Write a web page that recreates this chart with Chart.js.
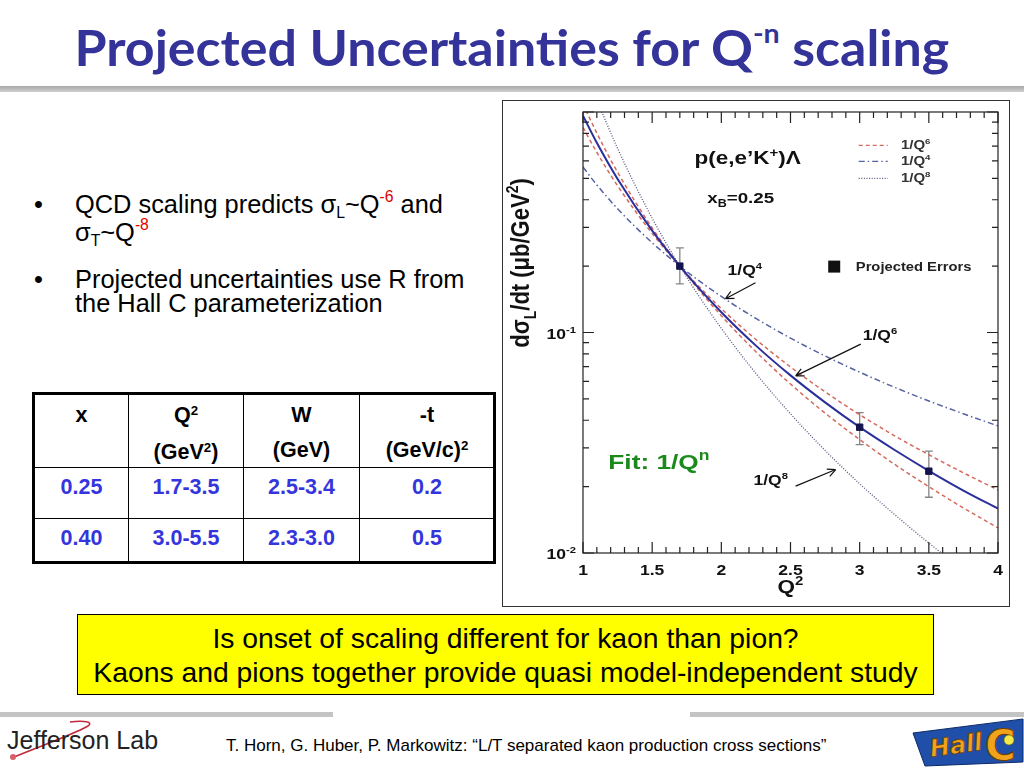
<!DOCTYPE html>
<html>
<head>
<meta charset="utf-8">
<script src="https://cdn.jsdelivr.net/npm/chart.js@4.4.0/dist/chart.umd.min.js"></script>
<style>
    body { margin: 0; background: #fff; }
    #slide { position: relative; width: 1024px; height: 768px; overflow: hidden; background: #fff;
             font-family: "Liberation Sans", Arial, sans-serif; color: #000; }
    #title { position: absolute; left: 0; top: 17px; width: 1024px; text-align: center; white-space: nowrap;
             font-family: Lato, "Open Sans", sans-serif; font-weight: bold; font-size: 49px; line-height: 60px;
             color: #333399; }
    #title .inner { display: inline-block; transform-origin: center; }
    #title .tsup { font-size: 0.55em; position: relative; top: -0.85em; }
    #rule { position: absolute; left: 0; top: 86px; width: 1024px; height: 6px;
            background: linear-gradient(#a9a9a9, #cfcfcf); }
    .bullet { position: absolute; left: 0; font-size: 25.4px; line-height: 24px; }
    .bullet .dot { position: absolute; left: 34px; top: 0; }
    .bullet .btext { position: absolute; left: 75px; top: 0; white-space: nowrap; }
    .sup, .sub { font-size: 0.62em; position: relative; }
    .sup { top: -0.7em; }
    .sub { top: 0.3em; }
    .red { color: #e00000; }
    #kin { position: absolute; left: 32px; top: 392px; width: 464px; height: 172px; box-sizing: border-box;
           border: 3px solid #000; font-weight: bold; font-size: 21.5px; }
    #kin .vl { position: absolute; top: 0; bottom: 0; width: 1px; background: #000; }
    #kin .hl { position: absolute; left: 0; right: 0; height: 1px; background: #000; }
    #kin .cell { position: absolute; text-align: center; white-space: nowrap; }
    #kin .head { line-height: 35px; top: 3px; }
    #kin .r1 { line-height: 24px; top: 80px; color: #3535dd; }
    #kin .r2 { line-height: 24px; top: 131px; color: #3535dd; }
    #kin .hsup { font-size: 0.62em; position: relative; top: -0.55em; }
    #chartBox { position: absolute; left: 502px; top: 100px; width: 508px; height: 507px;
                border: 1px solid #333; box-sizing: border-box; background: #fff; }
    #chart { display: block; }
    #yellow { position: absolute; left: 77px; top: 614px; width: 857px; height: 81px; box-sizing: border-box;
              border: 1.5px solid #000; background: #ffff00; text-align: center; font-size: 28.3px;
              line-height: 34px; padding-top: 6px; white-space: nowrap; }
    #footL, #footR { position: absolute; top: 712px; height: 5px; background: #c4c4c4; }
    #footL { left: 0; width: 333px; }
    #footR { left: 690px; width: 334px; }
    #jlab { position: absolute; left: 7px; top: 726px; font-size: 25px; color: #222; white-space: nowrap; }
    #swoosh { position: absolute; left: 0; top: 716px; }
    #cite { position: absolute; left: 226px; top: 736px; font-size: 17px; white-space: nowrap; transform-origin: left top; }
    #hallc { position: absolute; left: 905px; top: 714px; }
</style>
</head>
<body>
<div id="slide">
    <div id="title"><span class="inner">Projected Uncertainties for Q<span class="tsup">-n</span> scaling</span></div>
    <div id="rule"></div>

    <div class="bullet" style="top:192px">
        <span class="dot">•</span>
        <div class="btext">QCD scaling predicts σ<span class="sub">L</span>~Q<span class="sup red">-6</span> and<br>σ<span class="sub">T</span>~Q<span class="sup red">-8</span></div>
    </div>
    <div class="bullet" style="top:267px">
        <span class="dot">•</span>
        <div class="btext">Projected uncertainties use R from<br>the Hall C parameterization</div>
    </div>

    <div id="kin">
        <div class="vl" style="left:93px"></div>
        <div class="vl" style="left:208px"></div>
        <div class="vl" style="left:324px"></div>
        <div class="hl" style="top:72px"></div>
        <div class="hl" style="top:123px"></div>

        <div class="cell head" style="left:0;width:93px">x</div>
        <div class="cell head" style="left:94px;width:114px">Q<span class="hsup">2</span><br>(GeV<span class="hsup">2</span>)</div>
        <div class="cell head" style="left:209px;width:115px">W<br>(GeV)</div>
        <div class="cell head" style="left:325px;width:134px">-t<br>(GeV/c)<span class="hsup">2</span></div>

        <div class="cell r1" style="left:0;width:93px">0.25</div>
        <div class="cell r1" style="left:94px;width:114px">1.7-3.5</div>
        <div class="cell r1" style="left:209px;width:115px">2.5-3.4</div>
        <div class="cell r1" style="left:325px;width:134px">0.2</div>

        <div class="cell r2" style="left:0;width:93px">0.40</div>
        <div class="cell r2" style="left:94px;width:114px">3.0-5.5</div>
        <div class="cell r2" style="left:209px;width:115px">2.3-3.0</div>
        <div class="cell r2" style="left:325px;width:134px">0.5</div>
    </div>

    <div id="chartBox"><canvas id="chart" width="506" height="505"></canvas></div>

    <div id="yellow">Is onset of scaling different for kaon than pion?<br>Kaons and pions together provide quasi model-independent study</div>

    <div id="footL"></div><div id="footR"></div>
    <svg id="swoosh" width="120" height="50">
        <path d="M14 41 C 40 30, 70 20, 88 10 C 94 6, 84 4, 70 6" fill="none" stroke="#c3283c" stroke-width="1.6"/>
        <circle cx="13" cy="41" r="3" fill="#d9606a"/>
    </svg>
    <div id="jlab">Jefferson Lab</div>
    <div id="cite">T. Horn, G. Huber, P. Markowitz: “L/T separated kaon production cross sections”</div>
    <svg id="hallc" width="119" height="54">
        <polygon points="8,19 118,5 118,48 20,52" fill="#1f4fa8" stroke="#0d2a66" stroke-width="1"/>
        <text x="26" y="43" font-family="DejaVu Sans" font-weight="bold" font-style="italic" font-size="24"
              fill="#f2a31c" stroke="#6b3d00" stroke-width="0.8" transform="rotate(-8 26 43)">Hall</text>
        <text x="80" y="46" font-family="DejaVu Sans" font-weight="bold" font-size="42"
              fill="#f2a31c" stroke="#6b3d00" stroke-width="1">C</text>
        <circle cx="104" cy="26" r="5" fill="#f5e94a" stroke="#6b6b00" stroke-width="0.6"/>
    </svg>
</div>

<script>
const q2Grid = [1.0, 1.1, 1.25, 1.5, 1.75, 2.0, 2.25, 2.5, 2.75, 3.0, 3.25, 3.5, 3.75, 4.0];
const fitCurve = [0.962, 0.725, 0.497, 0.290, 0.1836, 0.1236, 0.0872, 0.0639, 0.0482, 0.0372, 0.0294, 0.0236, 0.0192, 0.0159];
const bandUpper = [0.851, 0.656, 0.463, 0.2815, 0.1848, 0.1283, 0.0930, 0.0698, 0.0538, 0.0424, 0.0341, 0.0279, 0.0231, 0.0193];
const bandLower = [1.087, 0.802, 0.533, 0.298, 0.1823, 0.1191, 0.0818, 0.0584, 0.0431, 0.0327, 0.0253, 0.0200, 0.0160, 0.0130];
const curveQ4 = [0.563, 0.467, 0.364, 0.2553, 0.189, 0.1457, 0.1158, 0.0943, 0.0783, 0.0661, 0.0565, 0.0489, 0.0428, 0.0377];
const curveQ8 = [1.67, 1.141, 0.684, 0.330, 0.178, 0.1044, 0.0652, 0.0428, 0.0292, 0.0206, 0.0150, 0.0111, 0.0084, 0.0065];

// projected errors
const errQ2 = [1.7, 3.0, 3.5];
const errVal = [0.200, 0.0372, 0.0235];
const errLow = [0.166, 0.0310, 0.0179];
const errHigh = [0.242, 0.0433, 0.0290];

// axis ticks
const xTickValues = [1, 1.5, 2, 2.5, 3, 3.5, 4];
const xTickLabels = ['1', '1.5', '2', '2.5', '3', '3.5', '4'];
const yTickValues = [0.01, 0.1];
const yTickExps = ['-2', '-1'];

const colFit = '#2b2f9b';
const colBand = '#d46a5c';
const colQ4 = '#5563a0';
const colQ8 = '#55557f';

document.addEventListener('DOMContentLoaded', () => {
    // title and footer widths
    const tInner = document.querySelector('#title .inner');
    tInner.style.transform = `scaleX(${875 / tInner.offsetWidth})`;
    const cite = document.getElementById('cite');
    cite.style.transform = `scaleX(${600 / cite.offsetWidth})`;

    const pts = arr => q2Grid.map((q, i) => ({ x: q, y: arr[i] }));

    function fontOf(mode, size) {
        const s = mode ? Math.round(size * 0.65) : size;
        return `bold ${s}px "Liberation Sans", Arial, sans-serif`;
    }

    // text with sub/superscripts, stretched sideways like the original picture
    function drawRich(ctx, parts, x, y, size, align, color, sx = 1.25, sy = 1, rot = 0) {
        ctx.save();
        ctx.translate(x, y);
        if (rot) ctx.rotate(rot);
        ctx.scale(sx, sy);
        ctx.fillStyle = color;
        ctx.textAlign = 'left';
        ctx.textBaseline = 'alphabetic';
        let w = 0;
        parts.forEach(([t, m]) => { ctx.font = fontOf(m, size); w += ctx.measureText(t).width; });
        let cx = align === 'center' ? -w / 2 : align === 'right' ? -w : 0;
        parts.forEach(([t, m]) => {
            ctx.font = fontOf(m, size);
            const dy = m === 'sup' ? -size * 0.42 : m === 'sub' ? size * 0.25 : 0;
            ctx.fillText(t, cx, dy);
            cx += ctx.measureText(t).width;
        });
        ctx.restore();
    }

    function arrow(ctx, x1, y1, x2, y2) {
        const a = Math.atan2(y2 - y1, x2 - x1);
        ctx.beginPath();
        ctx.moveTo(x1, y1);
        ctx.lineTo(x2, y2);
        ctx.moveTo(x2, y2);
        ctx.lineTo(x2 - 9 * Math.cos(a - 0.45), y2 - 9 * Math.sin(a - 0.45));
        ctx.moveTo(x2, y2);
        ctx.lineTo(x2 - 9 * Math.cos(a + 0.45), y2 - 9 * Math.sin(a + 0.45));
        ctx.stroke();
    }

    const legendRows = [
        { dash: [4, 3], color: colBand, exp: '6', y: 0.706 },
        { dash: [6, 3, 1.5, 3], color: colQ4, exp: '4', y: 0.597 },
        { dash: [1, 1.6], color: colQ8, exp: '8', y: 0.4995 }
    ];

    const notes = [
        { parts: [['p(e,e\u2019K', ''], ['+', 'sup'], [')\u039B', '']], x: 2.19, y: 0.578, size: 18, align: 'center', color: '#111' },
        { parts: [['x', ''], ['B', 'sub'], ['=0.25', '']], x: 2.14, y: 0.385, size: 15, align: 'center', color: '#111' },
        { parts: [['1/Q', ''], ['4', 'sup']], x: 2.045, y: 0.183, size: 14, align: 'left', color: '#111' },
        { parts: [['1/Q', ''], ['6', 'sup']], x: 3.022, y: 0.0926, size: 14, align: 'left', color: '#111' },
        { parts: [['1/Q', ''], ['8', 'sup']], x: 2.232, y: 0.0203, size: 14, align: 'left', color: '#111' },
        { parts: [['Fit: 1/Q', ''], ['n', 'sup']], x: 1.183, y: 0.0240, size: 21, align: 'left', color: '#1a8a1a' }
    ];

    const arrows = [
        [2.247, 0.168, 2.03, 0.1423],
        [3.008, 0.0886, 2.537, 0.0636],
        [2.537, 0.0201, 2.827, 0.0239]
    ];

    const slidePlot = {
        id: 'slidePlot',
        beforeDatasetsDraw(chart) {
            const { ctx, scales: { x, y } } = chart;
            ctx.save();
            ctx.strokeStyle = '#858585';
            ctx.lineWidth = 1.3;
            errQ2.forEach((q, i) => {
                const px = x.getPixelForValue(q);
                const top = y.getPixelForValue(errHigh[i]);
                const bot = y.getPixelForValue(errLow[i]);
                ctx.beginPath();
                ctx.moveTo(px, top); ctx.lineTo(px, bot);
                ctx.moveTo(px - 4, top); ctx.lineTo(px + 4, top);
                ctx.moveTo(px - 4, bot); ctx.lineTo(px + 4, bot);
                ctx.stroke();
            });
            ctx.restore();
        },
        afterDraw(chart) {
            const { ctx, chartArea: a, scales: { x, y } } = chart;
            ctx.save();

            // frame
            ctx.strokeStyle = '#222';
            ctx.lineWidth = 1.2;
            ctx.strokeRect(a.left, a.top, a.right - a.left, a.bottom - a.top);

            // inward ticks on all four sides
            ctx.beginPath();
            for (let k = 10; k <= 40; k++) {
                const px = x.getPixelForValue(k / 10);
                const len = k % 5 === 0 ? 11 : 6;
                ctx.moveTo(px, a.bottom); ctx.lineTo(px, a.bottom - len);
                ctx.moveTo(px, a.top); ctx.lineTo(px, a.top + len);
            }
            [0.01, 0.1].forEach(d => {
                for (let m = 1; m <= 10; m++) {
                    const py = y.getPixelForValue(d * m);
                    const len = (m === 1 || m === 10) ? 11 : 6;
                    ctx.moveTo(a.left, py); ctx.lineTo(a.left + len, py);
                    ctx.moveTo(a.right, py); ctx.lineTo(a.right - len, py);
                }
            });
            ctx.stroke();

            // tick labels
            xTickValues.forEach((v, i) => {
                drawRich(ctx, [[xTickLabels[i], '']], x.getPixelForValue(v), a.bottom + 22, 14, 'center', '#111');
            });
            yTickValues.forEach((v, i) => {
                drawRich(ctx, [['10', ''], [yTickExps[i], 'sup']], a.left - 7, y.getPixelForValue(v) + 6, 14, 'right', '#111');
            });

            // axis titles
            drawRich(ctx, [['Q', ''], ['2', 'sup']], (a.left + a.right) / 2, a.bottom + 40, 18, 'center', '#111');
            drawRich(ctx, [['d\u03C3', ''], ['L', 'sub'], ['/dt (\u03BCb/GeV', ''], ['2', 'sup'], [')', '']],
                a.left - 54, a.top + 151, 22, 'center', '#111', 1, 1.2, -Math.PI / 2);

            // legend inside the frame
            legendRows.forEach(r => {
                const py = y.getPixelForValue(r.y);
                ctx.save();
                ctx.strokeStyle = r.color;
                ctx.lineWidth = 1.3;
                ctx.setLineDash(r.dash);
                ctx.beginPath();
                ctx.moveTo(x.getPixelForValue(2.993), py);
                ctx.lineTo(x.getPixelForValue(3.203), py);
                ctx.stroke();
                ctx.restore();
                drawRich(ctx, [['1/Q', ''], [r.exp, 'sup']], x.getPixelForValue(3.298), py + 4, 12.5, 'left', '#333', 1.2);
            });
            const sqx = x.getPixelForValue(2.816);
            const sqy = y.getPixelForValue(0.199);
            ctx.fillStyle = '#111';
            ctx.fillRect(sqx - 6, sqy - 6, 12, 12);
            drawRich(ctx, [['Projected Errors', '']], x.getPixelForValue(2.972), y.getPixelForValue(0.1893), 12.5, 'left', '#222', 1.18);

            // annotations
            notes.forEach(n => {
                drawRich(ctx, n.parts, x.getPixelForValue(n.x), y.getPixelForValue(n.y), n.size, n.align, n.color);
            });
            ctx.strokeStyle = '#111';
            ctx.lineWidth = 1.2;
            arrows.forEach(([q1, v1, q2, v2]) => {
                arrow(ctx, x.getPixelForValue(q1), y.getPixelForValue(v1), x.getPixelForValue(q2), y.getPixelForValue(v2));
            });

            ctx.restore();
        }
    };

    const lineDs = (data, color, width, dash) => ({
        data: pts(data),
        showLine: true,
        borderColor: color,
        borderWidth: width,
        borderDash: dash,
        pointRadius: 0,
        fill: false,
        cubicInterpolationMode: 'monotone'
    });

    new Chart(document.getElementById('chart'), {
        type: 'scatter',
        data: {
            datasets: [
                {
                    data: errQ2.map((q, i) => ({ x: q, y: errVal[i] })),
                    pointStyle: 'rect',
                    pointRadius: 4.5,
                    backgroundColor: '#14144e',
                    borderColor: '#14144e',
                    showLine: false
                },
                lineDs(fitCurve, colFit, 2, []),
                lineDs(bandUpper, colBand, 1.5, [4, 3]),
                lineDs(bandLower, colBand, 1.5, [4, 3]),
                lineDs(curveQ4, colQ4, 1.5, [6, 3, 1.5, 3]),
                lineDs(curveQ8, colQ8, 1.3, [1, 1.6])
            ]
        },
        options: {
            responsive: false,
            animation: false,
            events: [],
            layout: {
                padding: { left: 80, right: 11, top: 11, bottom: 53 }
            },
            plugins: {
                legend: { display: false },
                title: { display: false },
                tooltip: { enabled: false }
            },
            scales: {
                x: { type: 'linear', min: 1, max: 4, display: false },
                y: { type: 'logarithmic', min: 0.01, max: 1, display: false }
            }
        },
        plugins: [slidePlot]
    });
});
</script>
</body>
</html>
